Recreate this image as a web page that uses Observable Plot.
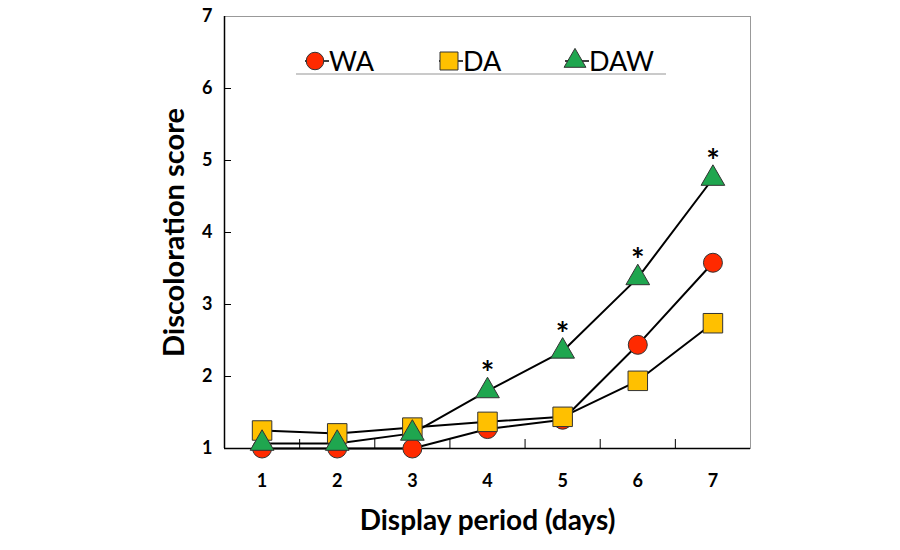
<!DOCTYPE html>
<html>
<head>
<meta charset="utf-8">
<script src="https://cdn.jsdelivr.net/npm/d3@7"></script>
<script src="https://cdn.jsdelivr.net/npm/@observablehq/plot@0.6"></script>
<style>
  body { margin: 0; background: #fff; }
  #chart svg { display: block; }
</style>
</head>
<body>
<div id="chart"></div>
<script>
// Display period (days)
const days = [1, 2, 3, 4, 5, 6, 7];
// Mean discoloration score per treatment
const waScores  = [1.00, 1.00, 1.00, 1.27, 1.40, 2.44, 3.58];
const daScores  = [1.25, 1.21, 1.29, 1.37, 1.44, 1.94, 2.74];
const dawScores = [1.07, 1.07, 1.21, 1.80, 2.35, 3.37, 4.75];
// Days where DAW differs significantly
const significantDays = [4, 5, 6, 7];
const yTicks = [1, 2, 3, 4, 5, 6, 7];
const xMinorTicks = [1.5, 2.5, 3.5, 4.5, 5.5, 6.5];

const series = [
  {name: "WA",  values: waScores,  fill: "#ff2a00", symbol: "circle",   r: 9.5},
  {name: "DA",  values: daScores,  fill: "#ffc000", symbol: "square",   r: 11},
  {name: "DAW", values: dawScores, fill: "#1fa64f", symbol: "triangle", r: 8.8}
];

const rowsOf = (s) => days.map((d, i) => ({day: d, score: s.values[i], series: s.name}));

const W = 900, H = 550;
const margin = {top: 16, right: 150, bottom: 102, left: 224};
const font = "Lato, 'Open Sans', sans-serif";

// Legend row drawn inside the frame, above the curves
function legend(index, scales, values, dimensions) {
  const g = d3.create("svg:g").attr("font-family", font);
  const left = dimensions.marginLeft;
  const top = dimensions.marginTop;
  const cy = top + 45;
  g.append("line")
    .attr("x1", left + 72).attr("x2", left + 442)
    .attr("y1", cy + 13).attr("y2", cy + 13)
    .attr("stroke", "#b8b8b8").attr("stroke-width", 1.5);
  const slots = [91, 225, 351];
  series.forEach((s, i) => {
    const x = left + slots[i];
    g.append("line")
      .attr("x1", x - 10).attr("x2", x + 14)
      .attr("y1", cy).attr("y2", cy)
      .attr("stroke", "#000").attr("stroke-width", 1.5);
    const sym = {circle: d3.symbolCircle, square: d3.symbolSquare, triangle: d3.symbolTriangle}[s.symbol];
    g.append("path")
      .attr("transform", `translate(${x},${cy})`)
      .attr("d", d3.symbol(sym, Math.PI * s.r * s.r * 0.85)())
      .attr("fill", s.fill).attr("stroke", "#333").attr("stroke-width", 1);
    g.append("text")
      .attr("x", x + 14).attr("y", cy)
      .attr("dy", "0.36em")
      .attr("text-anchor", "start")
      .attr("font-size", 27)
      .attr("fill", "#000")
      .text(s.name);
  });
  return g.node();
}

const marks = [
  // frame: light top/right, dark left/bottom
  Plot.frame({stroke: "#999", strokeWidth: 1}),
  Plot.ruleX([0.5], {stroke: "#000", strokeWidth: 1.5}),
  Plot.ruleY([1], {stroke: "#000", strokeWidth: 1.5}),
  // inward tick marks
  Plot.ruleY(yTicks.slice(1, -1), {insetRight: 526 - 7, stroke: "#000", strokeWidth: 1}),
  Plot.ruleX(xMinorTicks, {insetTop: 432 - 9, stroke: "#000", strokeWidth: 1}),
  // tick labels
  Plot.axisY(yTicks, {tickSize: 0, tickPadding: 12, fontSize: 18, fontWeight: "bold", label: null, tickFormat: d => String(d)}),
  Plot.axisX(days, {tickSize: 0, tickPadding: 26, fontSize: 18, fontWeight: "bold", label: null, tickFormat: d => String(d)}),
  // axis titles
  Plot.text(["Discoloration score"], {
    frameAnchor: "left", dx: -50, rotate: -90, textAnchor: "middle", lineAnchor: "middle",
    fontSize: 29, fontWeight: "bold"
  }),
  Plot.text(["Display period (days)"], {
    frameAnchor: "bottom", dy: 73, textAnchor: "middle", lineAnchor: "middle",
    fontSize: 28, fontWeight: "bold"
  }),
  // connecting lines
  ...series.map(s => Plot.line(rowsOf(s), {x: "day", y: "score", stroke: "#000", strokeWidth: 2})),
  // markers
  ...series.map(s => Plot.dot(rowsOf(s), {x: "day", y: "score", symbol: s.symbol, r: s.r, fill: s.fill, stroke: "#333", strokeWidth: 1})),
  // significance asterisks
  Plot.text(rowsOf(series[2]).filter(d => significantDays.includes(d.day)), {
    x: "day", y: "score", text: () => "*", dy: -16, fontSize: 32, fontWeight: "bold"
  }),
  legend
];

const chart = Plot.plot({
  width: W,
  height: H,
  marginTop: margin.top,
  marginRight: margin.right,
  marginBottom: margin.bottom,
  marginLeft: margin.left,
  style: {fontFamily: font, color: "#000", background: "#fff"},
  x: {domain: [0.5, 7.5], axis: null},
  y: {domain: [1, 7], axis: null},
  marks
});

document.getElementById("chart").append(chart);
</script>
</body>
</html>
